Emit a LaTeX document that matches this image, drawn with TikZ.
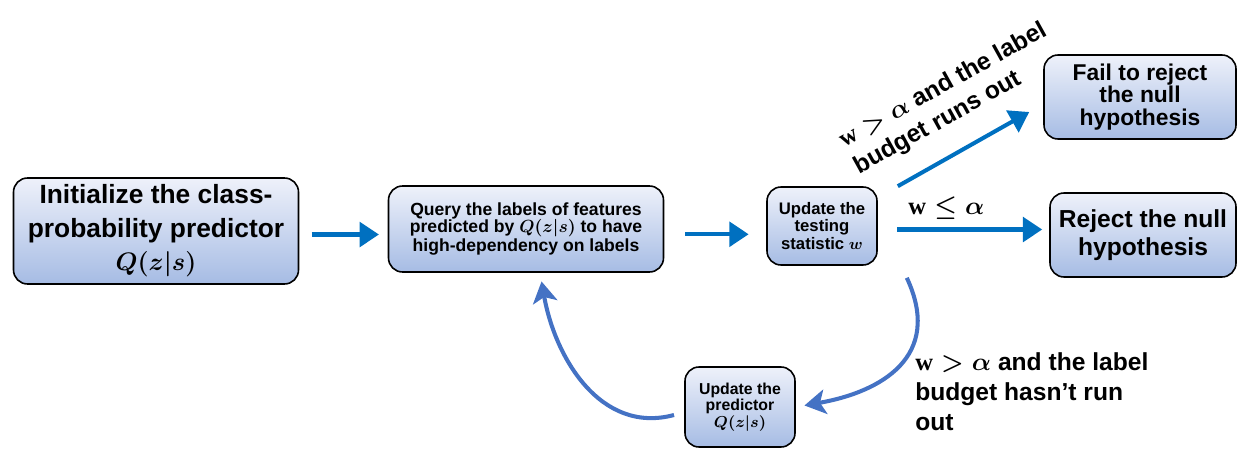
\documentclass[tikz,border=0pt]{standalone}
\usepackage{fontspec}
\setmainfont{Liberation Sans}
\newfontfamily\serifw{Liberation Serif}
\usetikzlibrary{arrows.meta,calc}
\definecolor{ink}{HTML}{000000}
\definecolor{flowblue}{HTML}{0070C0}
\definecolor{loopblue}{HTML}{4472C4}
\definecolor{boxtop}{HTML}{EEF1FA}
\definecolor{boxbottom}{HTML}{A6BCE4}
\newcommand{\wvar}{\mbox{\serifw\bfseries w}}

\begin{document}
\begin{tikzpicture}[
  stage/.style={draw=ink, line width=0.9pt, rounded corners=8pt, top color=boxtop,
    bottom color=boxbottom, text=ink, align=center, inner sep=2pt},
  flow/.style={-{Triangle[length=11pt,width=14pt]}, draw=flowblue, line width=2.3pt},
  loop/.style={-{Stealth[length=12pt,width=14pt,inset=3pt]}, draw=loopblue, line width=2.3pt},
  cond/.style={text=ink, font=\fontsize{14}{17}\selectfont\bfseries\boldmath}
]
\useasboundingbox (0,0) rectangle (24.74,9);

\node[stage, minimum width=5.7cm, minimum height=2.12cm, font=\fontsize{15}{19}\selectfont\bfseries\boldmath]
  (init) at (3.12,4.38) {Initialize the class-\\probability predictor\\$Q(z|s)$};
\node[stage, minimum width=5.5cm, minimum height=1.72cm, font=\fontsize{10}{9.6}\selectfont\bfseries\boldmath]
  (query) at (10.52,4.42) {Query the labels of features\\predicted by $Q(z|s)$ to have\\high-dependency on labels};
\node[stage, minimum width=2.2cm, minimum height=1.56cm, font=\fontsize{9.5}{10}\selectfont\bfseries\boldmath]
  (stat) at (16.44,4.48) {Update the\\testing\\statistic $w$};
\node[stage, minimum width=3.84cm, minimum height=1.68cm, font=\fontsize{13}{13}\selectfont\bfseries]
  (fail) at (22.8,7.06) {Fail to reject\\the null\\hypothesis};
\node[stage, minimum width=3.72cm, minimum height=1.68cm, font=\fontsize{14}{16}\selectfont\bfseries]
  (reject) at (22.86,4.3) {Reject the null\\hypothesis};
\node[stage, minimum width=2.2cm, minimum height=1.6cm, font=\fontsize{9}{9.5}\selectfont\bfseries\boldmath]
  (pred) at (14.8,0.86) {Update the\\predictor\\$Q(z|s)$};

\draw[flow, shorten <=7pt, shorten >=5pt] ([yshift=-2pt]init.east) -- ([yshift=-2pt]init.east -| query.west);
\draw[flow, shorten <=12pt, shorten >=10pt] ([yshift=-3pt]query.east) -- ([yshift=-3pt]query.east -| stat.west);
\draw[flow, shorten <=11pt, shorten >=4pt] ([yshift=-2pt]stat.east) -- ([yshift=-2pt]stat.east -| reject.west)
  node[cond, above=1pt, pos=0.4] (lesscond) {$\wvar\le\alpha$};
\draw[flow] ($(stat.north east)+(0.4,0)$) -- ($(fail.west)+(-0.28,-0.3)$);
\draw[loop, shorten >=5pt] ($(stat.south east)+(0.58,-0.24)$) to[out=-65, in=10, looseness=1.3] (pred.east);
\draw[loop, shorten <=6pt, shorten >=5pt] ([yshift=-3pt]pred.west) to[out=195, in=-80, looseness=1.1] ($(query.south)+(0.28,0)$);

\node[cond, rotate=29, align=left] (runsout) at (19.02,7.02)
  {$\wvar > \alpha$ and the label\\budget runs out};
\node[cond, anchor=north west, align=left, inner sep=0pt] (notout) at (18.3,1.95)
  {$\wvar > \alpha$ and the label\\budget hasn’t run\\out};
\end{tikzpicture}
\end{document}
